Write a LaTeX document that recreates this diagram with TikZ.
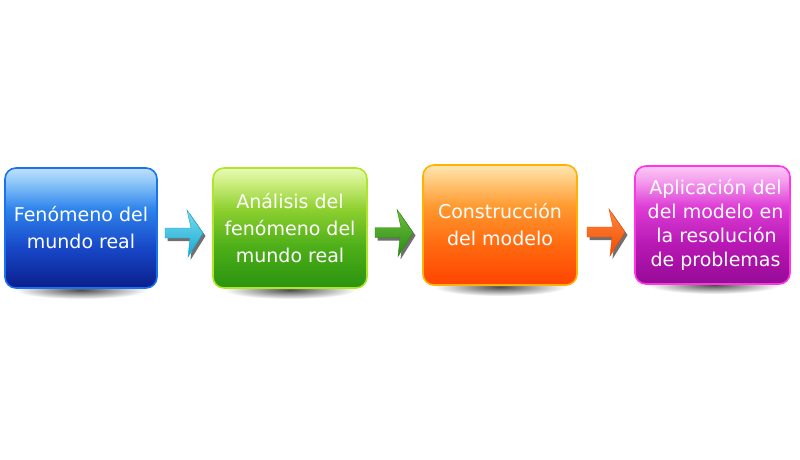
\documentclass[tikz,border=0pt]{standalone}
\usepackage{fontspec}
\setmainfont{DejaVu Sans}
\usetikzlibrary{calc}
% box colours
\definecolor{bluA}{HTML}{0A1E8C}\definecolor{bluB}{HTML}{1848C8}\definecolor{bluC}{HTML}{2E84EC}\definecolor{bluD}{HTML}{8CC6F8}\definecolor{bluE}{HTML}{C0E0FC}\definecolor{bluR}{HTML}{1A72F0}
\definecolor{grnA}{HTML}{2A9410}\definecolor{grnB}{HTML}{4CAE18}\definecolor{grnC}{HTML}{8ED030}\definecolor{grnD}{HTML}{CDEE80}\definecolor{grnE}{HTML}{E8FAB8}\definecolor{grnR}{HTML}{B0E62A}
\definecolor{orgA}{HTML}{FF4400}\definecolor{orgB}{HTML}{FF6A10}\definecolor{orgC}{HTML}{FF9A30}\definecolor{orgD}{HTML}{FFCC80}\definecolor{orgE}{HTML}{FFE6B4}\definecolor{orgR}{HTML}{FFB200}
\definecolor{magA}{HTML}{960A96}\definecolor{magB}{HTML}{B818B4}\definecolor{magC}{HTML}{DE3ED6}\definecolor{magD}{HTML}{F4A0EE}\definecolor{magE}{HTML}{FCC8F6}\definecolor{magR}{HTML}{FF36E6}
% arrow colours
\definecolor{cyaL}{HTML}{7ADCF0}\definecolor{cyaD}{HTML}{18A8D0}
\definecolor{agrL}{HTML}{6CC040}\definecolor{agrD}{HTML}{2A8A10}
\definecolor{aorL}{HTML}{FF8A40}\definecolor{aorD}{HTML}{F04A00}
\pgfdeclareverticalshading{blueglass}{100bp}{color(0bp)=(bluA); color(25bp)=(bluA); color(42bp)=(bluB); color(58bp)=(bluC); color(69bp)=(bluD); color(75bp)=(bluE); color(100bp)=(bluE)}
\pgfdeclareverticalshading{greenglass}{100bp}{color(0bp)=(grnA); color(25bp)=(grnA); color(42bp)=(grnB); color(58bp)=(grnC); color(69bp)=(grnD); color(75bp)=(grnE); color(100bp)=(grnE)}
\pgfdeclareverticalshading{orangeglass}{100bp}{color(0bp)=(orgA); color(25bp)=(orgA); color(42bp)=(orgB); color(58bp)=(orgC); color(69bp)=(orgD); color(75bp)=(orgE); color(100bp)=(orgE)}
\pgfdeclareverticalshading{magentaglass}{100bp}{color(0bp)=(magA); color(25bp)=(magA); color(42bp)=(magB); color(58bp)=(magC); color(69bp)=(magD); color(75bp)=(magE); color(100bp)=(magE)}
\tikzset{
  glassbox/.style={line width=1.6pt, rounded corners=11pt, minimum height=120pt,
    text=white, align=center, inner sep=0pt, font=\fontsize{19}{27}\selectfont},
  boxshadow/.style={inner color=black!70, outer color=white},
  pics/fatarrow/.style n args={2}{code={
    \fill[black!80, opacity=.7, shift={(2.5,3)}]
      (-20,-5) -- (6,-5) -- (2,-23) -- (18,0) -- (3,24) -- (5,5) -- (-20,5) -- cycle;
    \shade[top color=#1, bottom color=#2, draw=#2, line width=.4pt]
      (-20,-5) -- (6,-5) -- (2,-23) -- (18,0) -- (3,24) -- (5,5) -- (-20,5) -- cycle;
  }}
}
\begin{document}
\begin{tikzpicture}[x=1pt,y=-1pt]
\useasboundingbox (0,0) rectangle (800,460);
% shadows under the boxes
\shade[boxshadow] (81,290) ellipse [x radius=66, y radius=9];
\shade[boxshadow] (290,290) ellipse [x radius=66, y radius=9];
\shade[boxshadow] (500,287) ellipse [x radius=66, y radius=9];
\shade[boxshadow] (714,285) ellipse [x radius=66, y radius=9];
% boxes
\node[glassbox, draw=bluR, shading=blueglass, minimum width=152pt] (n1) at (81,228)
  {Fenómeno del\\mundo real};
\node[glassbox, draw=grnR, shading=greenglass, minimum width=154pt] (n2) at (290,228)
  {Análisis del\\fenómeno del\\mundo real};
\node[glassbox, draw=orgR, shading=orangeglass, minimum width=154pt] (n3) at (500,225)
  {Construcción\\del modelo};
\node[glassbox, draw=magR, shading=magentaglass, minimum width=155pt, minimum height=118pt,
  font=\fontsize{19}{24}\selectfont] (n4) at (712.5,225)
  {\hspace*{6pt}Aplicación del\\\hspace*{6pt}del modelo en\\\hspace*{8pt}la resolución\\\hspace*{6pt}de problemas};
% arrows between boxes
\pic at ($($(n1.east)!0.5!(n2.west)$)+(0,5)$) {fatarrow={cyaL}{cyaD}};
\pic at ($($(n2.east)!0.5!(n3.west)$)+(0,6)$) {fatarrow={agrL}{agrD}};
\pic at ($($(n3.east)!0.5!(n4.west)$)+(1,7)$) {fatarrow={aorL}{aorD}};
\end{tikzpicture}
\end{document}
